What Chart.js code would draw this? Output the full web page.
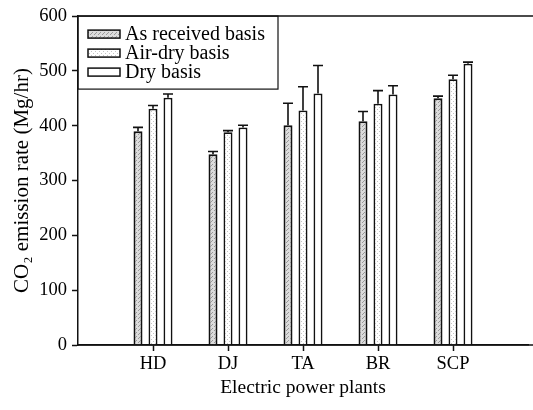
<!DOCTYPE html>
<html>
<head>
<meta charset="utf-8">
<script src="https://cdn.jsdelivr.net/npm/chart.js@4.4.1/dist/chart.umd.min.js"></script>
<style>
  html, body { margin: 0; padding: 0; background: #fff; }
  #wrap { width: 533px; height: 410px; }
</style>
</head>
<body>
<div id="wrap"><canvas id="myChart" width="533" height="410"></canvas></div>
<script>
// values (Mg/hr)
var plants = ['HD', 'DJ', 'TA', 'BR', 'SCP'];
var asReceived = [390, 348, 401, 408, 450];
var asReceivedErr = [7, 5, 40, 18, 4];
var airDry = [431, 388, 428, 440, 485];
var airDryErr = [6, 3, 43, 24, 7];
var dryBasis = [451, 397, 459, 457, 513];
var dryErr = [7, 4, 51, 16, 3];
var yTicks = [0, 100, 200, 300, 400, 500, 600];

var serif = "'Liberation Serif', 'Times New Roman', serif";

// stipple fills like the scanned print
function stipple(bg, dot, spots) {
    var c = document.createElement('canvas');
    c.width = 4; c.height = 4;
    var g = c.getContext('2d');
    g.fillStyle = bg;
    g.fillRect(0, 0, 4, 4);
    g.fillStyle = dot;
    spots.forEach(function (p) { g.fillRect(p[0], p[1], 1, 1); });
    return g.createPattern(c, 'repeat');
}
var fillRecv = stipple('#dcdcdc', '#9a9a9a', [[0, 0], [2, 2], [3, 1]]);
var fillAir = stipple('#ffffff', '#c4c4c4', [[1, 1], [3, 3]]);
var fillDry = '#ffffff';

// pad the category axis with blank slots at both ends
var labels = [''].concat(plants, ['']);
function pad(arr) { return [null].concat(arr, [null]); }

var errorBars = {
    id: 'errorBars',
    afterDatasetsDraw: function (chart) {
        var ctx = chart.ctx;
        var y = chart.scales.y;
        ctx.save();
        ctx.strokeStyle = '#111';
        ctx.lineWidth = 1.6;
        chart.data.datasets.forEach(function (ds, di) {
            var meta = chart.getDatasetMeta(di);
            meta.data.forEach(function (bar, i) {
                var v = ds.data[i];
                if (v == null) return;
                var e = ds.err[i - 1];
                var top = y.getPixelForValue(v + e);
                var half = bar.width / 2 + 0.5;
                ctx.beginPath();
                ctx.moveTo(bar.x, bar.y);
                ctx.lineTo(bar.x, top);
                ctx.moveTo(bar.x - half, top);
                ctx.lineTo(bar.x + half, top);
                ctx.stroke();
            });
        });
        ctx.restore();
    }
};

var frameAndLegend = {
    id: 'frameAndLegend',
    afterDraw: function (chart) {
        var ctx = chart.ctx;
        var a = chart.chartArea;
        ctx.save();
        ctx.strokeStyle = '#111';
        ctx.lineWidth = 1.5;
        // top frame line and baseline running to the edge
        ctx.beginPath();
        ctx.moveTo(a.left, a.top);
        ctx.lineTo(chart.width, a.top);
        ctx.moveTo(a.left, a.bottom);
        ctx.lineTo(chart.width, a.bottom);
        ctx.stroke();

        // legend box
        var bx = a.left, by = a.top, bw = 200, bh = 73;
        ctx.lineWidth = 1.2;
        ctx.strokeRect(bx, by, bw, bh);
        ctx.font = '20px ' + serif;
        ctx.textBaseline = 'middle';
        chart.data.datasets.forEach(function (ds, i) {
            var cy = by + 18 + i * 19;
            ctx.fillStyle = ds.backgroundColor;
            ctx.fillRect(bx + 10, cy - 4, 32, 8);
            ctx.lineWidth = 1.5;
            ctx.strokeRect(bx + 10, cy - 4, 32, 8);
            ctx.fillStyle = '#000';
            ctx.fillText(ds.label, bx + 47, cy + 1);
        });
        ctx.restore();
    }
};

var ctx = document.getElementById('myChart').getContext('2d');
var chart = new Chart(ctx, {
    type: 'bar',
    data: {
        labels: labels,
        datasets: [
            { label: 'As received basis', data: pad(asReceived), err: asReceivedErr,
              backgroundColor: fillRecv, borderColor: '#111', borderWidth: 2 },
            { label: 'Air-dry basis', data: pad(airDry), err: airDryErr,
              backgroundColor: fillAir, borderColor: '#111', borderWidth: 1.8 },
            { label: 'Dry basis', data: pad(dryBasis), err: dryErr,
              backgroundColor: fillDry, borderColor: '#111', borderWidth: 1.8 }
        ]
    },
    options: {
        responsive: false,
        animation: false,
        layout: { padding: { top: 15, right: 5, left: 0, bottom: 0 } },
        categoryPercentage: 0.6,
        barPercentage: 0.6,
        plugins: {
            legend: { display: false },
            tooltip: { enabled: false }
        },
        scales: {
            x: {
                offset: false,
                grid: {
                    offset: false,
                    drawOnChartArea: false,
                    tickLength: 6,
                    tickColor: function (c) { return c.tick && c.tick.label ? '#111' : 'rgba(0,0,0,0)'; },
                    tickWidth: 1.5
                },
                border: { color: '#111', width: 1.5 },
                ticks: { color: '#000', font: { family: serif, size: 18.5 }, padding: 2, maxRotation: 0, autoSkip: false },
                title: { display: true, text: 'Electric power plants', color: '#000',
                         font: { family: serif, size: 19.5 }, padding: { top: 0, bottom: 10 } },
                afterFit: function (s) { s.height = 65; }
            },
            y: {
                min: 0,
                max: 600,
                afterBuildTicks: function (s) { s.ticks = yTicks.map(function (v) { return { value: v }; }); },
                grid: { drawOnChartArea: false, tickLength: 6, tickColor: '#111', tickWidth: 1.5 },
                border: { color: '#111', width: 1.5 },
                ticks: { color: '#000', font: { family: serif, size: 18.5 }, padding: 5 },
                title: { display: true, text: 'CO\u2082 emission rate (Mg/hr)', color: '#000',
                         font: { family: serif, size: 21 }, padding: { top: 10, bottom: 0 } },
                afterFit: function (s) { s.width = 78; }
            }
        }
    },
    plugins: [errorBars, frameAndLegend]
});
</script>
</body>
</html>
